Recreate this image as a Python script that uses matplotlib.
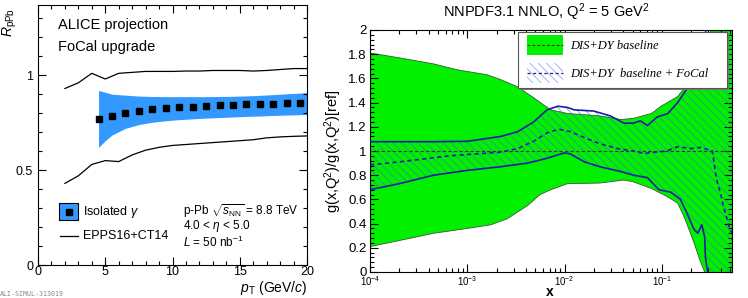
import numpy as np
import matplotlib
matplotlib.use('Agg')
import matplotlib.pyplot as plt
from matplotlib.patches import Rectangle
from matplotlib.lines import Line2D
from matplotlib.ticker import MultipleLocator, LogLocator, NullFormatter, FixedLocator, FixedFormatter

plt.rcParams['font.family'] = ['Liberation Sans', 'DejaVu Sans']
plt.rcParams['mathtext.fontset'] = 'custom'
plt.rcParams['mathtext.rm'] = 'Liberation Sans'
plt.rcParams['mathtext.it'] = 'Liberation Sans:italic'
plt.rcParams['mathtext.bf'] = 'Liberation Sans:bold'
plt.rcParams['hatch.linewidth'] = 0.6

W, H = 748, 298

# ---------------- left panel data ----------------
pt_epps = [2, 3, 4, 5, 6, 7, 8, 9, 10, 11, 12, 13, 14, 15, 16, 17, 18, 19, 20]
epps_up = [0.93, 0.96, 1.01, 0.98, 1.01, 1.015, 1.02, 1.02, 1.02, 1.022, 1.022, 1.025, 1.025,
           1.025, 1.022, 1.025, 1.03, 1.035, 1.035]
epps_lo = [0.43, 0.47, 0.53, 0.55, 0.545, 0.58, 0.605, 0.62, 0.63, 0.635, 0.64, 0.645, 0.65,
           0.655, 0.66, 0.67, 0.675, 0.678, 0.68]
pt_pts = [4.5, 5.5, 6.5, 7.5, 8.5, 9.5, 10.5, 11.5, 12.5, 13.5, 14.5, 15.5, 16.5, 17.5, 18.5, 19.5]
rppb = [0.77, 0.785, 0.80, 0.81, 0.82, 0.825, 0.83, 0.835, 0.838, 0.842, 0.845, 0.847, 0.848,
        0.85, 0.851, 0.852]
band_pt = [4.5, 5.0, 5.5, 6.5, 7.5, 8.5, 9.5, 10.5, 11.5, 12.5, 13.5, 14.5, 15.5, 16.5, 17.5,
           18.5, 19.5, 20.0]
band_up = [0.92, 0.91, 0.90, 0.895, 0.89, 0.888, 0.887, 0.887, 0.887, 0.887, 0.888, 0.889, 0.891,
           0.894, 0.898, 0.902, 0.906, 0.908]
band_lo = [0.62, 0.655, 0.685, 0.72, 0.74, 0.752, 0.760, 0.766, 0.770, 0.774, 0.777, 0.780, 0.783,
           0.785, 0.788, 0.790, 0.792, 0.793]

# ---------------- right panel data ----------------
base_up_x = [1e-4, 2e-4, 4.5e-4, 8e-4, 1.6e-3, 2.2e-3, 3.3e-3, 4.8e-3, 7.2e-3, 1.07e-2, 1.6e-2,
             2.3e-2, 3.8e-2, 5.1e-2, 7.8e-2, 9.8e-2, 0.145, 0.186, 0.25, 0.32, 0.53]
base_up = [1.81, 1.77, 1.72, 1.67, 1.63, 1.59, 1.53, 1.44, 1.34, 1.31, 1.30, 1.29, 1.26, 1.27,
           1.31, 1.37, 1.45, 1.56, 1.75, 2.0, 2.6]
base_lo_x = [1e-4, 2e-4, 4.5e-4, 1e-3, 1.74e-3, 2.57e-3, 4.17e-3, 5.6e-3, 7.2e-3, 1.07e-2, 2.3e-2,
             4.07e-2, 5.1e-2, 7.8e-2, 0.115, 0.145, 0.166, 0.18, 0.214, 0.245, 0.275, 0.28, 0.53]
base_lo = [0.21, 0.26, 0.32, 0.36, 0.39, 0.44, 0.55, 0.64, 0.68, 0.73, 0.735, 0.76, 0.745, 0.69,
           0.62, 0.57, 0.47, 0.40, 0.24, 0.10, 0.0, -0.5, -0.5]
base_c_x = [1e-4, 0.53]
base_c = [1.0, 1.0]

focal_up_x = [1e-4, 4.5e-4, 1e-3, 2.2e-3, 3.3e-3, 4.8e-3, 6.6e-3, 8.5e-3, 1.07e-2, 1.26e-2, 2e-2,
              2.95e-2, 4.07e-2, 5.1e-2, 6.0e-2, 7.1e-2, 8.9e-2, 0.115, 0.145, 0.186, 0.234, 0.26,
              0.28, 0.285, 0.53]
focal_up = [1.077, 1.077, 1.08, 1.12, 1.16, 1.24, 1.34, 1.37, 1.36, 1.34, 1.33, 1.29, 1.23, 1.23,
            1.25, 1.21, 1.28, 1.31, 1.40, 1.53, 1.67, 1.75, 1.9, 2.3, 2.6]
focal_lo_x = [1e-4, 2e-4, 4.5e-4, 1e-3, 2.2e-3, 4.17e-3, 6.6e-3, 1e-2, 1.15e-2, 1.6e-2, 2.3e-2,
              3.8e-2, 5.1e-2, 7.1e-2, 9.3e-2, 0.123, 0.155, 0.18, 0.214, 0.234, 0.257, 0.275, 0.28,
              0.295, 0.3, 0.53]
focal_lo = [0.68, 0.73, 0.80, 0.84, 0.87, 0.90, 0.94, 0.985, 0.975, 0.91, 0.87, 0.83, 0.80, 0.78,
            0.68, 0.66, 0.60, 0.49, 0.35, 0.32, 0.39, 0.29, 0.12, 0.0, -0.5, -0.5]
focal_c_x = [1e-4, 2e-4, 6.6e-4, 2.2e-3, 3.3e-3, 4.8e-3, 6.6e-3, 8.7e-3, 1.15e-2, 1.6e-2, 2.3e-2,
             3.5e-2, 5.1e-2, 6.5e-2, 0.112, 0.145, 0.2, 0.25, 0.33, 0.363, 0.40, 0.43, 0.47, 0.50,
             0.525]
focal_c = [0.885, 0.91, 0.96, 0.99, 1.02, 1.08, 1.15, 1.18, 1.16, 1.11, 1.06, 1.02, 1.0, 0.98,
           1.0, 1.035, 1.02, 1.03, 1.0, 0.77, 0.65, 0.54, 0.43, 0.35, 0.32]

BLUE = '#3399ff'
GREEN = '#00f000'
DBLUE = '#1c1ca8'


def P(px, py):
    return (px / W, 1 - py / H)


fig = plt.figure(figsize=(W / 100, H / 100), dpi=100)

# ================= left panel =================
axL = fig.add_axes([38 / W, 1 - 265 / H, (307 - 38) / W, (265 - 5) / H])
axL.fill_between(band_pt, band_lo, band_up, color=BLUE, lw=0, zorder=1)
axL.plot(pt_epps, epps_up, color='black', lw=0.9, zorder=2)
axL.plot(pt_epps, epps_lo, color='black', lw=0.9, zorder=2)
axL.plot(pt_pts, rppb, ls='none', marker='s', ms=4.6, color='black', zorder=3)
axL.set_xlim(0, 20)
axL.set_ylim(0, 1.37)
axL.xaxis.set_major_locator(MultipleLocator(5))
axL.xaxis.set_minor_locator(MultipleLocator(1))
axL.yaxis.set_major_locator(FixedLocator([0, 0.5, 1]))
axL.yaxis.set_major_formatter(FixedFormatter(['0', '0.5', '1']))
axL.yaxis.set_minor_locator(MultipleLocator(0.1))
axL.tick_params(which='both', direction='in', top=True, right=True, labelsize=9)
axL.tick_params(which='major', length=6, width=0.8)
axL.tick_params(which='minor', length=3, width=0.8)
axL.tick_params(axis='x', pad=1)
for s in axL.spines.values():
    s.set_linewidth(0.8)

fig.text(*P(58, 25), 'ALICE projection', fontsize=10.5, va='center', ha='left')
fig.text(*P(58, 47), 'FoCal upgrade', fontsize=10.5, va='center', ha='left')
fig.text(*P(10, 8), r'$R_{\mathrm{pPb}}$', rotation=90, fontsize=10, va='top', ha='center')
fig.text(*P(307, 288), r'$\mathbf{\mathit{p}}_{\mathrm{T}}$ (GeV/$c$)', fontsize=10,
         va='center', ha='right')

# left legend
x0, y0 = P(59, 220)
x1, y1 = P(78, 203)
fig.add_artist(Rectangle((x0, y0), x1 - x0, y1 - y0, transform=fig.transFigure,
                         facecolor=BLUE, edgecolor='black', lw=0.8))
fig.add_artist(Line2D([(x0 + x1) / 2], [(y0 + y1) / 2], transform=fig.transFigure,
                      marker='s', ms=4.2, color='black', ls='none'))
fig.add_artist(Line2D([P(60, 0)[0], P(78, 0)[0]], [P(0, 236)[1]] * 2,
                      transform=fig.transFigure, color='black', lw=0.9))
fig.text(*P(83, 212), r'Isolated $\gamma$', fontsize=9, va='center', ha='left')
fig.text(*P(83, 236), 'EPPS16+CT14', fontsize=9, va='center', ha='left')
fig.text(*P(183, 211), r'p-Pb $\sqrt{s_{\mathrm{NN}}}$ = 8.8 TeV', fontsize=8.5,
         va='center', ha='left')
fig.text(*P(183, 226.5), r'4.0 < $\eta$ < 5.0', fontsize=8.5, va='center', ha='left')
fig.text(*P(183, 242.5), r'$L$ = 50 nb$^{-1}$', fontsize=8.5, va='center', ha='left')
fig.text(*P(0, 294), 'ALI-SIMUL-313019', fontsize=4.8, color='#888888',
         family='DejaVu Sans Mono', va='center', ha='left')

# ================= right panel =================
axR = fig.add_axes([370 / W, 1 - 272 / H, (732 - 370) / W, (272 - 30) / H])
axR.fill(np.concatenate([base_up_x, base_lo_x[::-1]]),
         np.concatenate([base_up, base_lo[::-1]]),
         facecolor=GREEN, edgecolor='#2f5f2f', lw=0.6, zorder=1)
axR.fill(np.concatenate([focal_up_x, focal_lo_x[::-1]]),
         np.concatenate([focal_up, focal_lo[::-1]]),
         facecolor='none', edgecolor='#4466cc', hatch='\\\\\\\\', lw=0, alpha=0.65, zorder=2)
axR.plot(base_c_x, base_c, color='#333333', ls=(0, (3, 2)), lw=0.8, zorder=3)
axR.plot(focal_up_x, focal_up, color=DBLUE, lw=1.2, zorder=4)
axR.plot(focal_lo_x, focal_lo, color=DBLUE, lw=1.2, zorder=4)
axR.plot(focal_c_x, focal_c, color=DBLUE, ls=(0, (2.5, 2)), lw=1.2, zorder=4)
axR.set_xscale('log')
axR.set_xlim(1e-4, 0.525)
axR.set_ylim(0, 2)
axR.set_yticks(np.arange(0, 2.01, 0.2))
axR.set_yticklabels(['0', '0.2', '0.4', '0.6', '0.8', '1', '1.2', '1.4', '1.6', '1.8', '2'])
axR.yaxis.set_minor_locator(MultipleLocator(0.04))
axR.xaxis.set_major_locator(LogLocator(base=10, numticks=10))
axR.xaxis.set_minor_locator(LogLocator(base=10, subs=np.arange(2, 10), numticks=20))
axR.xaxis.set_minor_formatter(NullFormatter())
axR.tick_params(which='both', direction='in', top=True, right=True)
axR.tick_params(axis='y', labelsize=9.5, pad=2.5)
axR.tick_params(axis='x', labelsize=7, pad=1.5)
axR.tick_params(which='major', length=6, width=0.8)
axR.tick_params(which='minor', length=3, width=0.8)
for s in axR.spines.values():
    s.set_linewidth(0.8)

fig.text(*P(546, 12), r'NNPDF3.1 NNLO, Q$^2$ = 5 GeV$^2$', fontsize=10.5, va='center', ha='center')
fig.text(*P(333, 151), r'g(x,Q$^2$)/g(x,Q$^2$)[ref]', fontsize=10.5, rotation=90,
         va='center', ha='center')
fig.text(*P(550, 291.5), 'x', fontsize=10, fontweight='bold', va='center', ha='center')

# right legend (manual, ROOT-style)
lx0, ly0 = P(518, 88)
lx1, ly1 = P(727, 32)
sx, sy = 2 / W, 2 / H
fig.add_artist(Rectangle((lx0 + sx, ly0 - sy), lx1 - lx0, ly1 - ly0, transform=fig.transFigure,
                         facecolor='#777777', edgecolor='none', zorder=9))
fig.add_artist(Rectangle((lx0, ly0), lx1 - lx0, ly1 - ly0, transform=fig.transFigure,
                         facecolor='white', edgecolor='#555555', lw=0.8, zorder=10))
gx0, gy0 = P(527, 55)
gx1, gy1 = P(563, 35)
fig.add_artist(Rectangle((gx0, gy0), gx1 - gx0, gy1 - gy0, transform=fig.transFigure,
                         facecolor=GREEN, edgecolor='none', zorder=11))
fig.add_artist(Line2D([gx0, gx1], [P(0, 45)[1]] * 2, transform=fig.transFigure,
                      color='#333333', ls=(0, (3, 2)), lw=0.7, zorder=12))
hx0, hy0 = P(527, 83)
hx1, hy1 = P(563, 63)
fig.add_artist(Rectangle((hx0, hy0), hx1 - hx0, hy1 - hy0, transform=fig.transFigure,
                         facecolor='none', edgecolor='#99aaee', hatch='\\\\\\\\', lw=0,
                         zorder=11))
fig.add_artist(Line2D([hx0, hx1], [P(0, 73)[1]] * 2, transform=fig.transFigure,
                      color=DBLUE, ls=(0, (2.5, 2)), lw=0.9, zorder=12))
fig.text(*P(570, 46), 'DIS+DY baseline', fontsize=9, family='Liberation Serif',
         style='italic', va='center', ha='left', zorder=12)
fig.text(*P(570, 74), 'DIS+DY  baseline + FoCal', fontsize=9, family='Liberation Serif',
         style='italic', va='center', ha='left', zorder=12)

fig.savefig('out.png', dpi=100)
